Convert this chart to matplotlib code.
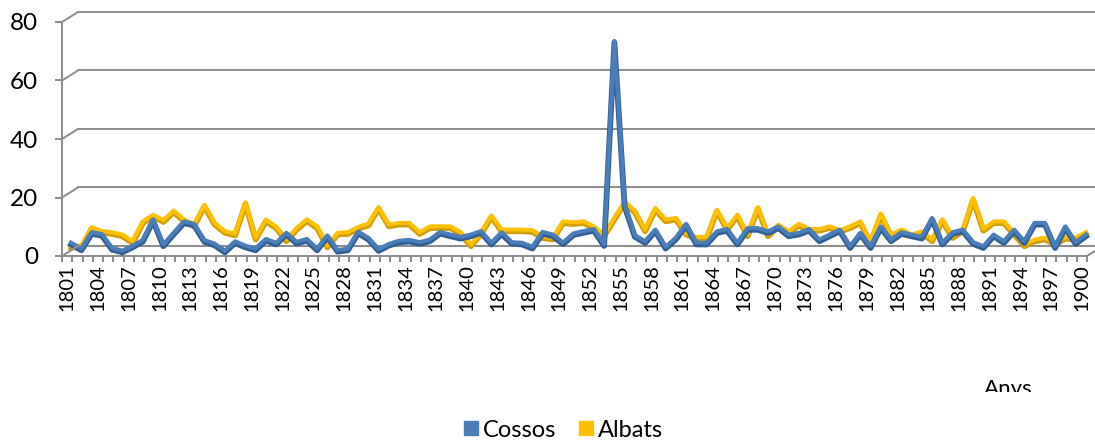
import matplotlib
matplotlib.use("Agg")
import matplotlib.pyplot as plt
import matplotlib.transforms as mtransforms
from matplotlib.lines import Line2D
from matplotlib.patches import Rectangle

# data
years = list(range(1801, 1901))
cossos = [3, 1, 6.6, 6, 1.2, 0.3, 2, 4, 11, 2.4,
          6.4, 10.3, 9.5, 3.9, 2.7, 0.3, 3.5, 2, 1, 4.3,
          3, 6.4, 3.3, 4.3, 1, 5.5, 0.5, 1, 6.8, 4.7,
          0.8, 2.6, 3.7, 4, 3.2, 4.1, 6.7, 5.8, 5, 5.8,
          7, 3, 6.6, 3.2, 3, 1.6, 6.7, 5.8, 3.1, 6.2,
          7, 7.7, 2.5, 72, 16, 5.6, 3.5, 7.5, 1.6, 4.7,
          9.5, 3, 3, 6.9, 7.7, 3, 8, 8, 6.9, 8.6,
          5.8, 6.4, 7.7, 4.1, 5.8, 7.5, 1.8, 6.4, 1.8, 8.6,
          4.1, 6.6, 5.8, 5, 11.5, 3, 6.6, 7.5, 3.2, 1.8,
          5.8, 3.5, 7.5, 3.5, 9.8, 9.8, 1.8, 8.6, 3.2, 5.8]
albats = [2, 2, 8.3, 7, 6.6, 5.8, 3.5, 10.3, 12.6, 10.7,
          14, 11, 9.2, 16, 9.8, 7, 6.1, 16.8, 4.7, 10.9,
          8.6, 4.1, 8, 11, 8.6, 2, 6.4, 6.6, 8.4, 9.5,
          15.2, 9.2, 9.8, 9.8, 6.6, 8.6, 8.6, 8.6, 6.6, 2.4,
          6.5, 12.3, 7.5, 7.5, 7.5, 7.3, 5.2, 4.7, 10.3, 10,
          10.3, 8.6, 5.8, 11.5, 17, 14, 7.5, 14.9, 10.9, 11.5,
          6.4, 5, 5, 14.3, 8, 12.6, 5.8, 15.2, 5.8, 9.2,
          6.9, 9.5, 7.7, 7.7, 8.6, 7.3, 8.6, 10.3, 3.5, 13,
          5.8, 7.5, 5.8, 6.9, 4.1, 11, 5.2, 7.5, 18.3, 7.7,
          10.3, 10.3, 6.4, 2.4, 4.1, 4.7, 3, 5, 4.7, 6.6]
y_ticks = [0, 20, 40, 60, 80]
x_title = "Anys"

plt.rcParams['font.family'] = ['Lato', 'DejaVu Sans']

W, H = 1095, 444
fig = plt.figure(figsize=(W / 100, H / 100), dpi=100)
ax = fig.add_axes([62 / W, (H - 256) / H, (1087 - 62) / W, (256 - 22) / H])
n = len(years)
x = list(range(n))
ax.set_xlim(-0.5, n - 0.5)
ax.set_ylim(0, 80)
ax.patch.set_visible(False)

grid_c = '#8e8e8e'
px = 0.72  # one pixel in points
for s in ['top', 'right']:
    ax.spines[s].set_visible(False)
for s in ['left', 'bottom']:
    ax.spines[s].set_color(grid_c)
    ax.spines[s].set_linewidth(2 * px)


def shifted(dx, dy):
    # pixel offset that fakes the depth of the 3-D chart
    return ax.transData + mtransforms.ScaledTranslation(dx / 100, dy / 100, fig.dpi_scale_trans)


# back wall gridlines and the diagonals to the front
back = shifted(16, 10)
for v in y_ticks:
    ax.plot([-0.5, n + 1], [v, v], color=grid_c, lw=2 * px, transform=back, clip_on=False, zorder=1)
    x0, y0 = ax.transData.transform((-0.5, v))
    fig.add_artist(Line2D([x0, x0 + 16], [y0, y0 + 10], color=grid_c, lw=2 * px,
                          transform=mtransforms.IdentityTransform()))
x0, y0 = ax.transData.transform((n - 0.5, 0))
fig.add_artist(Line2D([x0, x0 + 16], [y0, y0 + 10], color=grid_c, lw=2 * px,
                      transform=mtransforms.IdentityTransform()))

# the two series, drawn as ribbons in the middle of the depth
mid = shifted(4, 4.5)
mid_low = shifted(4, 2.8)
ax.plot(x, albats, color='#d19d00', lw=5.8 * px, transform=mid_low, clip_on=False, zorder=3,
        solid_joinstyle='round')
ax.plot(x, albats, color='#ffc000', lw=4 * px, transform=mid, clip_on=False, zorder=3,
        solid_joinstyle='round')
ax.plot(x, cossos, color='#2f5f94', lw=5.8 * px, transform=mid_low, clip_on=False, zorder=4,
        solid_joinstyle='round')
ax.plot(x, cossos, color='#4a7ebb', lw=4 * px, transform=mid, clip_on=False, zorder=4,
        solid_joinstyle='round')

# ticks
ax.set_yticks(y_ticks)
ax.set_yticklabels([str(v) for v in y_ticks], fontsize=17.5)
ax.tick_params(axis='y', length=7 * px, width=2 * px, color=grid_c, pad=12)
ax.set_xticks([i - 0.5 for i in range(n + 1)])
ax.set_xticklabels([])
ax.tick_params(axis='x', length=6 * px, width=2 * px, color=grid_c)
ax.set_xticks(x[::3], minor=True)
ax.set_xticklabels([str(y) for y in years[::3]], minor=True, rotation=90, fontsize=14.5)
ax.tick_params(axis='x', which='minor', length=0, pad=6)

# axis title, cut at the bottom as in the original
fig.text(1008 / W, 1 - 379 / H, x_title, ha='center', va='top', fontsize=16)
fig.add_artist(Rectangle((960 / W, 1 - 410 / H), 100 / W, 18 / H, transform=fig.transFigure,
                         facecolor='white', edgecolor='none', zorder=10))

handles = [Line2D([], [], ls='none', marker='s', markersize=10.5, color='#4a7ebb'),
           Line2D([], [], ls='none', marker='s', markersize=10.5, color='#ffc000')]
fig.legend(handles, ['Cossos', 'Albats'], loc='center', bbox_to_anchor=(563 / W, 1 - 430 / H),
           ncol=2, frameon=False, fontsize=17, handlelength=0.7, handletextpad=0.15,
           columnspacing=0.9)

fig.savefig('out.png', dpi=100)
